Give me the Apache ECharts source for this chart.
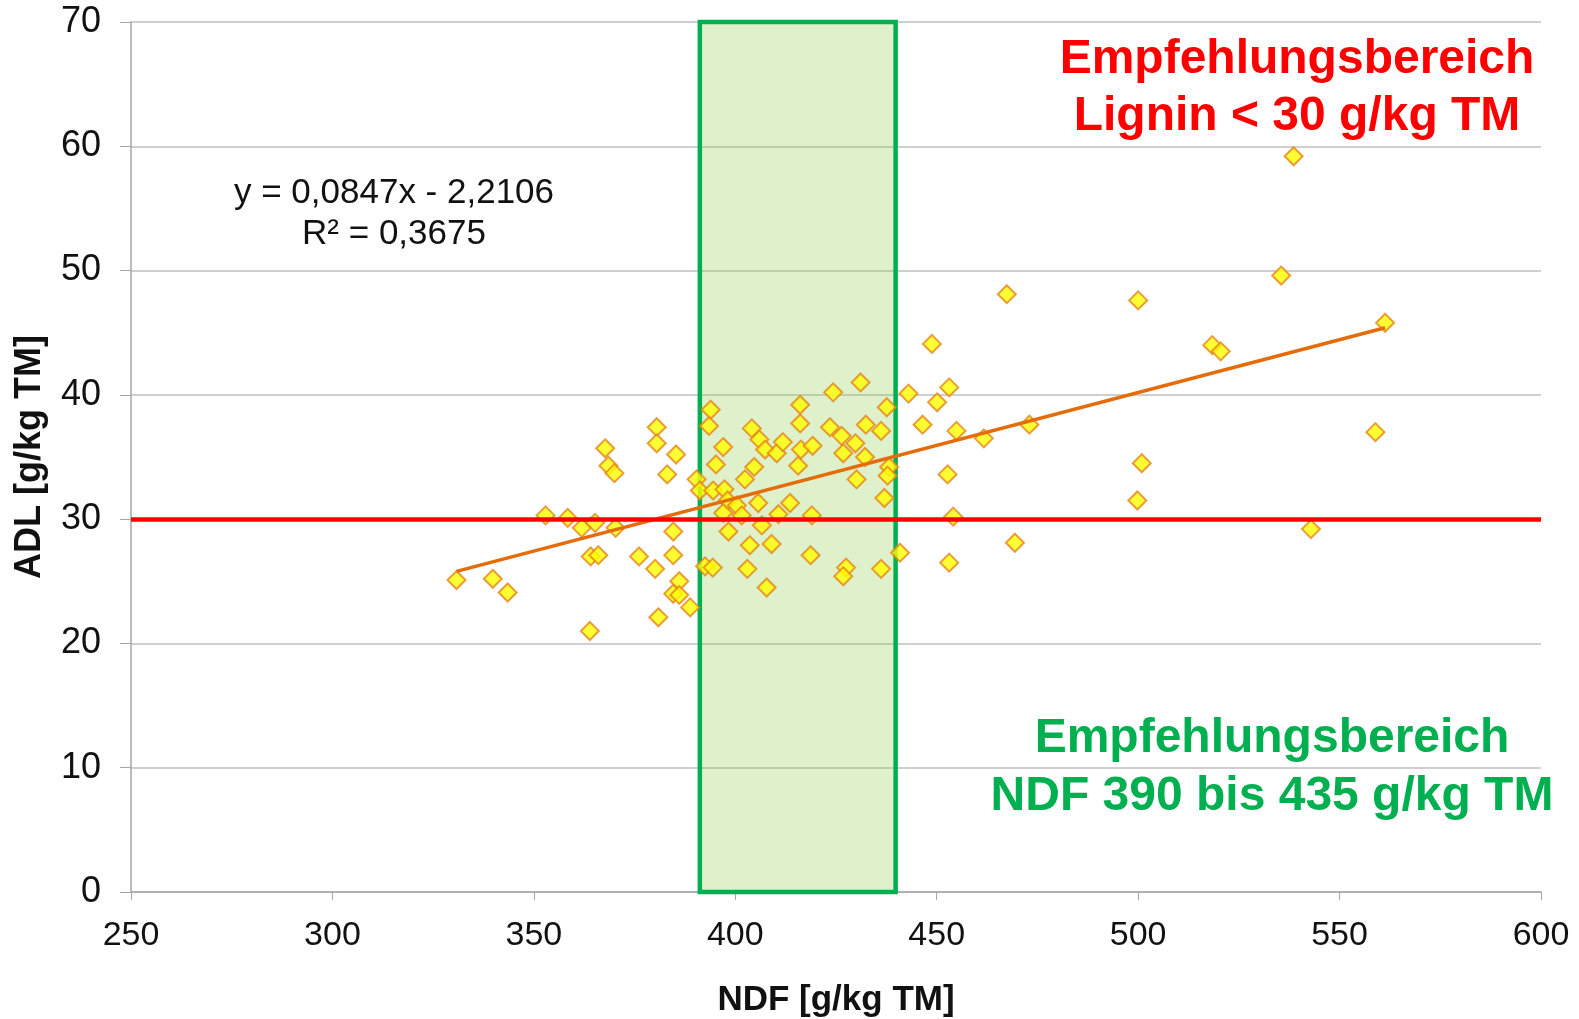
<!DOCTYPE html>
<html>
<head>
<meta charset="utf-8">
<script src="https://cdn.jsdelivr.net/npm/echarts@6/dist/echarts.min.js"></script>
<style>
html,body{margin:0;padding:0;background:#fff;}
#chart{width:1579px;height:1019px;}
</style>
</head>
<body>
<div id="chart"></div>
<script>
// NDF [g/kg TM] vs ADL [g/kg TM]
const ndf = [
  330.8,339.8,343.5,352.9,358.4,361.9,365.2,364.1,366.0,363.9,367.7,368.5,370.0,370.3,376.1,
  380.5,380.5,380.1,380.9,385.3,383.1,384.6,384.6,386.1,384.6,386.1,388.8,390.4,391.2,
  393.9,393.5,397.0,395.2,394.5,397.3,392.5,394.4,398.3,398.1,400.4,401.6,397.0,403.0,403.6,
  402.4,404.7,404.1,406.0,407.4,405.7,406.6,407.8,409.0,410.3,411.8,410.7,413.6,415.6,416.3,
  416.1,416.1,419.2,419.0,418.7,423.5,424.3,426.4,426.8,427.5,426.8,429.8,430.1,431.1,432.2,
  432.4,436.2,437.6,438.2,437.8,437.0,436.2,
  440.9,443.0,448.8,450.1,446.5,453.1,454.9,452.7,454.1,453.1,461.7,467.4,469.4,473.0,
  500.0,500.9,499.8,518.4,520.5,535.5,538.6,542.9,558.9,561.3
];
const adl = [
  25.1,25.2,24.1,30.3,30.1,29.3,29.7,27.0,27.1,21.0,35.7,34.3,33.7,29.3,27.0,
  37.4,36.1,26.0,22.1,35.2,33.6,29.0,27.1,25.0,24.0,23.9,22.9,33.2,32.3,
  38.8,37.5,35.8,34.4,32.3,32.4,26.2,26.1,29.0,31.5,31.1,30.3,30.5,26.0,27.9,
  33.2,34.2,37.3,36.4,35.6,31.3,29.5,24.5,28.0,35.3,36.2,30.4,31.3,34.3,35.6,
  37.7,39.2,35.9,30.3,27.1,37.4,40.2,36.7,35.3,26.1,25.4,36.1,33.2,41.0,35.0,
  37.6,37.1,39.0,34.2,33.5,31.7,26.0,
  27.3,40.1,44.1,39.4,37.6,40.6,37.1,33.6,30.2,26.5,36.5,48.1,28.1,37.6,
  47.6,34.5,31.5,44.0,43.5,49.6,59.2,29.2,37.0,45.8
];
// trend line end points
const trendX = [330.8, 561.3];
const trendY = [25.8, 45.4];
// recommended ranges
const ndfRange = [391.2, 439.8];
const ligninLimit = [30];
const xTicks = {min: 250, max: 600, step: 50};
const yTicks = {min: 0, max: 70, step: 10};

const points = ndf.map((x, i) => [x, adl[i]]);
const trend = trendX.map((x, i) => [x, trendY[i]]);

const FONT = '"Liberation Sans", Arial, sans-serif';
const chart = echarts.init(document.getElementById('chart'));
chart.setOption({
  backgroundColor: '#fff',
  animation: false,
  grid: {left: 131, right: 38, top: 22, bottom: 127, containLabel: false, outerBoundsMode: 'none'},
  xAxis: {
    type: 'value', min: xTicks.min, max: xTicks.max, interval: xTicks.step,
    name: 'NDF [g/kg TM]', nameLocation: 'middle', nameGap: 91,
    nameTextStyle: {fontFamily: FONT, fontSize: 35, fontWeight: 'bold', color: '#111'},
    axisLine: {lineStyle: {color: '#A6A6A6', width: 1.5}},
    axisTick: {show: true, inside: false, length: 8, lineStyle: {color: '#A6A6A6'}},
    axisLabel: {fontFamily: FONT, fontSize: 34, color: '#111', margin: 27},
    splitLine: {show: false}
  },
  yAxis: {
    type: 'value', min: yTicks.min, max: yTicks.max, interval: yTicks.step,
    name: 'ADL [g/kg TM]', nameLocation: 'middle', nameGap: 83, nameRotate: 90,
    nameTextStyle: {fontFamily: FONT, fontSize: 36, fontWeight: 'bold', color: '#111'},
    axisLine: {show: true, lineStyle: {color: '#A6A6A6', width: 1.5}},
    axisTick: {show: true, inside: false, length: 11, lineStyle: {color: '#A6A6A6'}},
    axisLabel: {fontFamily: FONT, fontSize: 36, color: '#111', margin: 30},
    splitLine: {show: true, lineStyle: {color: '#BFBFBF', width: 1.5}}
  },
  series: [
    {
      type: 'scatter', z: 2, data: points,
      symbol: 'diamond', symbolSize: 18,
      itemStyle: {color: '#FFFF00', borderColor: '#E5851A', borderWidth: 2}
    },
    {
      type: 'line', z: 3, data: trend, symbol: 'none',
      lineStyle: {color: '#E46C0A', width: 3.5}
    },
    {
      type: 'line', z: 4, data: [], symbol: 'none',
      markArea: {
        silent: true,
        itemStyle: {color: 'rgba(146,208,80,0.30)', borderColor: '#00B050', borderWidth: 4.5},
        data: [[{coord: [ndfRange[0], yTicks.min]}, {coord: [ndfRange[1], yTicks.max]}]]
      }
    },
    {
      type: 'line', z: 5, data: [], symbol: 'none',
      markLine: {
        silent: true, symbol: 'none', label: {show: false},
        lineStyle: {color: '#FF0000', width: 4.5, type: 'solid'},
        data: ligninLimit.map(v => ({yAxis: v}))
      }
    }
  ],
  graphic: [
    {
      type: 'text', x: 394, y: 214, z: 10,
      style: {text: 'y = 0,0847x - 2,2106\nR² = 0,3675', font: '35px ' + FONT, fill: '#111',
        align: 'center', verticalAlign: 'middle', lineHeight: 41}
    },
    {
      type: 'text', x: 1297, y: 88, z: 10,
      style: {text: 'Empfehlungsbereich\nLignin < 30 g/kg TM', font: 'bold 48px ' + FONT, fill: '#FF0000',
        align: 'center', verticalAlign: 'middle', lineHeight: 57}
    },
    {
      type: 'text', x: 1272, y: 768, z: 10,
      style: {text: 'Empfehlungsbereich\nNDF 390 bis 435 g/kg TM', font: 'bold 48px ' + FONT, fill: '#00B050',
        align: 'center', verticalAlign: 'middle', lineHeight: 58}
    }
  ]
});
</script>
</body>
</html>
